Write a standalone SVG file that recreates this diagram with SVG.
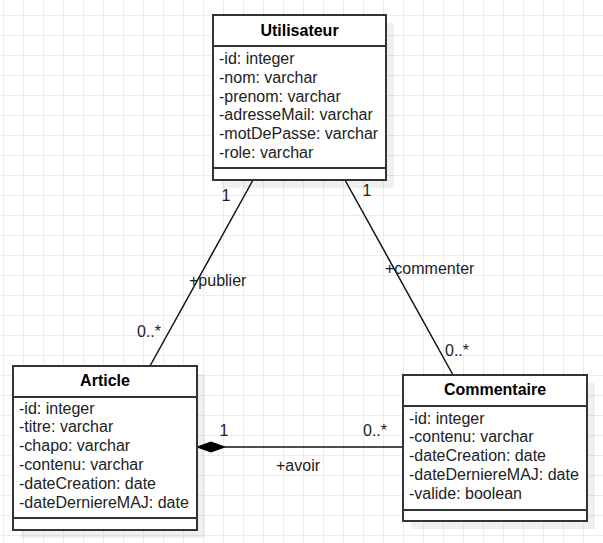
<svg xmlns="http://www.w3.org/2000/svg" width="603" height="543" viewBox="0 0 603 543">
<defs>
<pattern id="grid" x="3" y="15" width="20" height="20" patternUnits="userSpaceOnUse">
<path d="M0.5 0 V20 M0 0.5 H20" stroke="#ececec" stroke-width="1" fill="none"/>
</pattern>
</defs>
<style>
.box{fill:#fff;stroke:#333;stroke-width:2}
.sh{fill:#000;opacity:0.06}
.div{stroke:#333;stroke-width:2}
.title{font-family:"Liberation Sans",Arial,sans-serif;font-size:16px;font-weight:bold;fill:#000;text-anchor:middle}
.attr{font-family:"Liberation Sans",Arial,sans-serif;font-size:16px;fill:#222}
.lbl{font-family:"Liberation Sans",Arial,sans-serif;font-size:16px;fill:#222}
.conn{stroke:#111;stroke-width:1.5;fill:none}
</style>
<rect width="603" height="543" fill="#fff"/>
<rect width="603" height="543" fill="url(#grid)"/>

<g id="connectors">
<line class="conn" x1="253" y1="180" x2="150" y2="366"/>
<line class="conn" x1="345" y1="180" x2="453" y2="375"/>
<line class="conn" x1="225" y1="447" x2="403" y2="447"/>
<polygon points="197,447 211,442 225,447 211,452" fill="#000" stroke="#000" stroke-width="1"/>
<text class="lbl" x="226" y="201" text-anchor="middle">1</text>
<text class="lbl" x="189" y="286">+publier</text>
<text class="lbl" x="137" y="337">0..*</text>
<text class="lbl" x="367" y="196" text-anchor="middle">1</text>
<text class="lbl" x="385" y="274">+commenter</text>
<text class="lbl" x="445" y="356">0..*</text>
<text class="lbl" x="224" y="436" text-anchor="middle">1</text>
<text class="lbl" x="363" y="436">0..*</text>
<text class="lbl" x="276" y="471">+avoir</text>
</g>

<g id="utilisateur">
<rect class="sh" x="221" y="23" width="173" height="165"/>
<rect class="box" x="213" y="15" width="173" height="165"/>
<line class="div" x1="213" y1="46" x2="386" y2="46"/>
<line class="div" x1="213" y1="168" x2="386" y2="168"/>
<text class="title" x="299.5" y="36">Utilisateur</text>
<text class="attr" x="219" y="64">-id: integer</text>
<text class="attr" x="219" y="83">-nom: varchar</text>
<text class="attr" x="219" y="101.5">-prenom: varchar</text>
<text class="attr" x="219" y="120">-adresseMail: varchar</text>
<text class="attr" x="219" y="139">-motDePasse: varchar</text>
<text class="attr" x="219" y="157.5">-role: varchar</text>
</g>

<g id="article">
<rect class="sh" x="21" y="374" width="184" height="164"/>
<rect class="box" x="13" y="366" width="184" height="164"/>
<line class="div" x1="13" y1="397" x2="197" y2="397"/>
<line class="div" x1="13" y1="518" x2="197" y2="518"/>
<text class="title" x="105" y="386">Article</text>
<text class="attr" x="19" y="413.5">-id: integer</text>
<text class="attr" x="19" y="432.3">-titre: varchar</text>
<text class="attr" x="19" y="451.1">-chapo: varchar</text>
<text class="attr" x="19" y="469.9">-contenu: varchar</text>
<text class="attr" x="19" y="488.7">-dateCreation: date</text>
<text class="attr" x="19" y="507.5">-dateDerniereMAJ: date</text>
</g>

<g id="commentaire">
<rect class="sh" x="411" y="383" width="184" height="146"/>
<rect class="box" x="403" y="375" width="184" height="146"/>
<line class="div" x1="403" y1="406" x2="587" y2="406"/>
<line class="div" x1="403" y1="510" x2="587" y2="510"/>
<text class="title" x="495" y="395">Commentaire</text>
<text class="attr" x="409" y="423.5">-id: integer</text>
<text class="attr" x="409" y="442.3">-contenu: varchar</text>
<text class="attr" x="409" y="461.1">-dateCreation: date</text>
<text class="attr" x="409" y="479.9">-dateDerniereMAJ: date</text>
<text class="attr" x="409" y="498.7">-valide: boolean</text>
</g>
</svg>
